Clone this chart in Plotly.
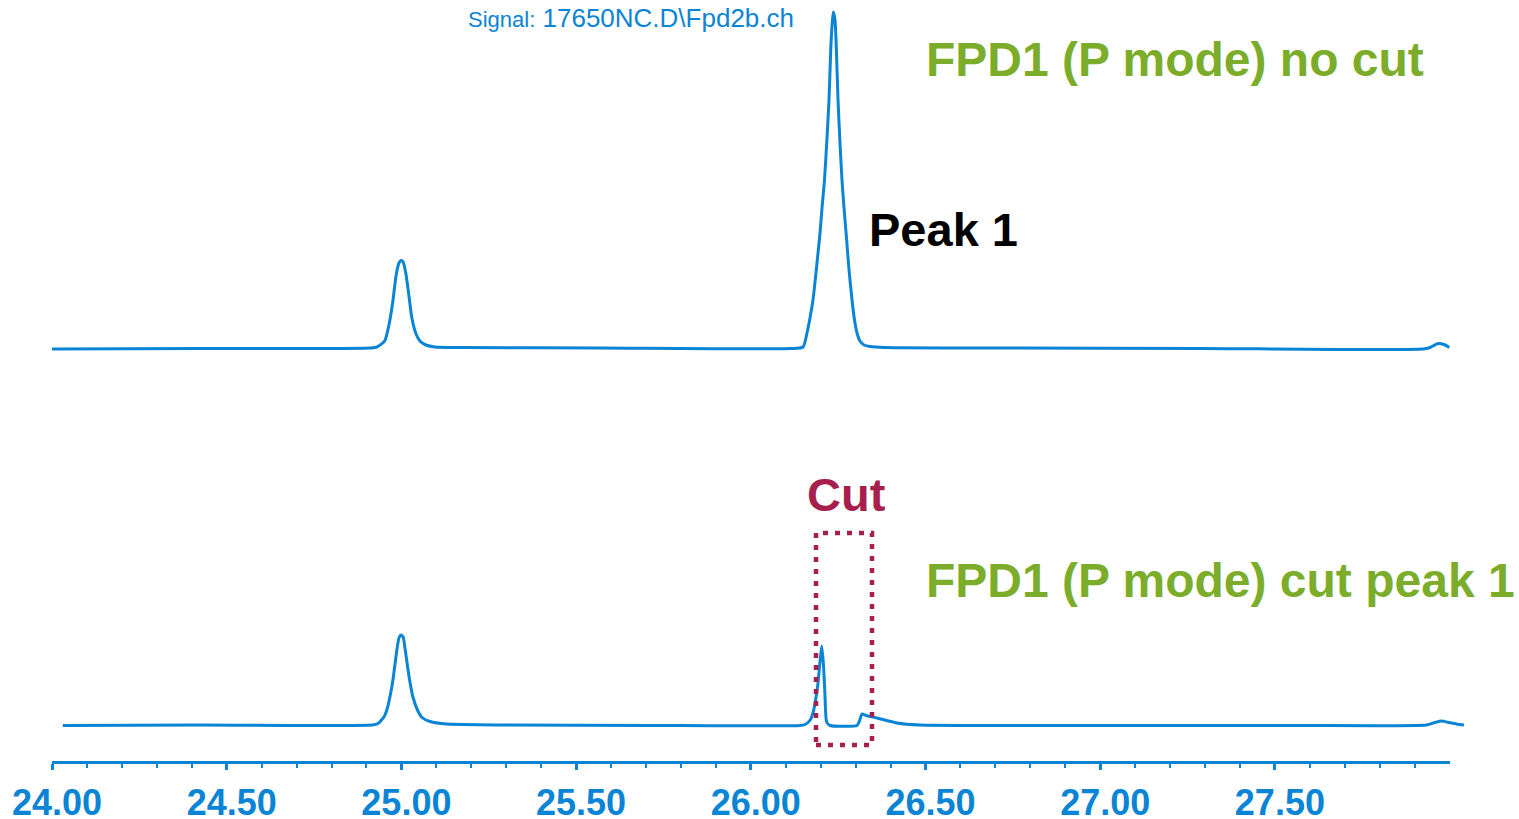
import plotly.graph_objects as go

# ---------------- data ----------------
# Retention time (min) and signal height above baseline (arbitrary units)
top_time = [24.000, 24.424, 24.910, 24.930, 24.952, 24.965, 24.976, 24.985, 24.993, 24.999,
            25.005, 25.013, 25.022, 25.030, 25.042, 25.053, 25.070, 25.096, 25.168, 25.568,
            26.1122, 26.1494, 26.1608, 26.1694, 26.1780, 26.1880, 26.1981, 26.2038, 26.2109,
            26.2181, 26.2238, 26.2290, 26.2324, 26.2361,
            26.2410, 26.2447, 26.2496, 26.2553, 26.2610, 26.2668, 26.2739, 26.2811, 26.2897,
            26.2968, 26.3040, 26.3126, 26.3240, 26.3412, 26.3841,
            26.713, 27.286, 27.924, 27.944, 27.967, 27.984, 28.000]
top_signal = [-1.0, -0.5, 0.0, 1.0, 7.0, 24.0, 48.0, 73.0, 85.0, 87.5,
              86.0, 74.0, 51.0, 30.0, 14.0, 7.0, 3.0, 1.0, 0.5, 0.0,
              -0.5, 1.0, 15.0, 30.0, 48.0, 80.0, 115.0, 140.0, 168.0,
              210.0, 248.0, 300.0, 322.0, 336.0,
              328.0, 300.0, 248.0, 205.0, 168.0, 140.0, 110.0, 78.0, 48.0,
              28.0, 15.0, 7.0, 3.0, 1.5, 0.5,
              0.0, -0.5, -1.0, 0.5, 4.5, 3.5, 0.5]

bot_time = [24.031, 24.424, 24.916, 24.933, 24.950, 24.960, 24.972, 24.977, 24.987, 24.993,
            24.999, 25.005, 25.011, 25.022, 25.033, 25.046, 25.059, 25.082, 25.130, 25.282,
            25.712, 26.141, 26.155, 26.170, 26.178, 26.191, 26.198, 26.203, 26.208, 26.212,
            26.217, 26.227, 26.304, 26.311, 26.318, 26.330, 26.361, 26.418, 26.484, 26.999,
            27.572, 27.934, 27.958, 27.977, 27.998, 28.020, 28.041]
bot_signal = [0.0, 0.5, 0.5, 2.0, 8.5, 17.5, 37.5, 48.5, 75.5, 87.5,
              90.5, 88.5, 75.5, 48.5, 28.5, 15.5, 8.0, 4.0, 1.5, 0.5,
              0.0, 0.0, 1.0, 5.5, 12.5, 38.5, 63.5, 79.5, 60.5, 32.5,
              3.5, 0.0, 0.0, 4.5, 11.5, 10.0, 7.5, 2.5, 0.5, 0.0,
              0.0, 0.5, 3.0, 4.5, 3.0, 1.5, 0.5]

major_ticks = [24.0, 24.5, 25.0, 25.5, 26.0, 26.5, 27.0, 27.5]
major_labels = ["24.00", "24.50", "25.00", "25.50", "26.00", "26.50", "27.00", "27.50"]
minor_ticks = [round(24.0 + 0.1 * i, 1) for i in range(40) if i % 5 != 0]

# ---------------- layout constants ----------------
W, H = 1519, 819
ML, MR, MT, MB = 52, 49, 0, 58
PX_PER_MIN = 349.4
TOP_OFFSET = 413.0   # baseline of upper chromatogram (y units)
BOT_OFFSET = 35.5    # baseline of lower chromatogram
PLOT_W = W - ML - MR
PLOT_H = H - MT - MB
X_END_MAIN = 28.0
X_END_FULL = 24.0 + PLOT_W / PX_PER_MIN

BLUE = "#0A84D4"
GREEN = "#7BAD2B"
CRIMSON = "#A61F4E"
FONT = "Liberation Sans, Arial, sans-serif"

fig = go.Figure()

fig.add_trace(go.Scatter(
    x=top_time, y=[s + TOP_OFFSET for s in top_signal],
    mode="lines", line=dict(color=BLUE, width=3, shape="spline", smoothing=0.6),
    xaxis="x", yaxis="y", showlegend=False, hoverinfo="skip"))

fig.add_trace(go.Scatter(
    x=bot_time, y=[s + BOT_OFFSET for s in bot_signal],
    mode="lines", line=dict(color=BLUE, width=3, shape="spline", smoothing=0.5),
    xaxis="x2", yaxis="y", showlegend=False, hoverinfo="skip"))

main_frac = (X_END_MAIN - 24.0) * PX_PER_MIN / PLOT_W

fig.update_layout(
    width=W, height=H, autosize=False,
    margin=dict(l=ML, r=MR, t=MT, b=MB, autoexpand=False),
    paper_bgcolor="white", plot_bgcolor="rgba(0,0,0,0)",
    xaxis=dict(
        domain=[0, main_frac], range=[24.0, X_END_MAIN], automargin=False,
        showgrid=False, zeroline=False,
        showline=True, linecolor=BLUE, linewidth=3,
        ticks="outside", ticklen=6, tickwidth=2.5, tickcolor=BLUE,
        tickmode="array", tickvals=major_ticks, ticktext=major_labels,
        tickfont=dict(family=FONT, size=36, color=BLUE, weight="bold"),
        ticklabelshift=5, ticklabelstandoff=2,
        minor=dict(tickvals=minor_ticks, ticks="outside", ticklen=4,
                   tickwidth=2, tickcolor=BLUE, showgrid=False),
        fixedrange=True,
    ),
    xaxis2=dict(
        domain=[0, 1], range=[24.0, X_END_FULL], anchor="y", automargin=False,
        visible=False, fixedrange=True,
    ),
    yaxis=dict(range=[0, PLOT_H], visible=False, fixedrange=True, automargin=False),
)

def ty(px):
    return PLOT_H - px

def tx(px):
    return 24.0 + (px - ML) / PX_PER_MIN

# cut window (dotted box)
fig.add_shape(type="rect", xref="x", yref="y",
              x0=tx(816), x1=tx(872), y0=ty(745), y1=ty(533),
              line=dict(color=CRIMSON, width=4.5, dash="5px,7px"),
              fillcolor="rgba(0,0,0,0)")

annos = [
    dict(text="<span style='font-size:22px'>Signal:</span> 17650NC.D\\Fpd2b.ch",
         x=tx(467), y=ty(18), size=26, color=BLUE, bold=False),
    dict(text="FPD1 (P mode) no cut", x=tx(925), y=ty(59), size=48, color=GREEN, bold=True),
    dict(text="Peak 1", x=tx(868), y=ty(229), size=47, color="#000000", bold=True),
    dict(text="Cut", x=tx(806), y=ty(494), size=47, color=CRIMSON, bold=True),
    dict(text="FPD1 (P mode) cut peak 1", x=tx(925), y=ty(580), size=48, color=GREEN, bold=True),
]
for a in annos:
    fig.add_annotation(
        text=a["text"], x=a["x"], y=a["y"], xref="x2", yref="y",
        xanchor="left", yanchor="middle", showarrow=False,
        font=dict(family=FONT, size=a["size"], color=a["color"],
                  weight="bold" if a["bold"] else "normal"),
        borderpad=0)

fig.write_html(
    "out.html",
    config={"displayModeBar": False, "responsive": False},
    post_script="document.body.style.margin='0';document.body.style.overflow='hidden';")
